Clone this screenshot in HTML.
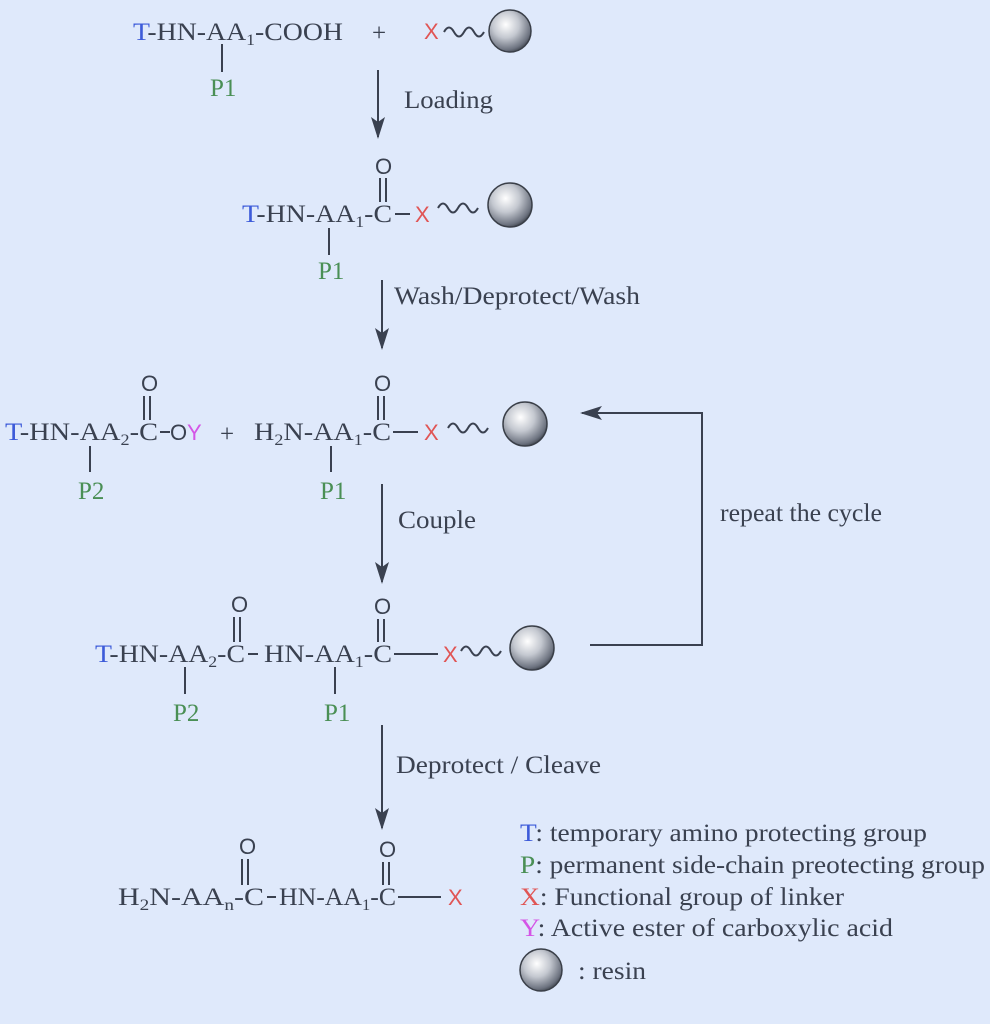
<!DOCTYPE html>
<html><head><meta charset="utf-8"><style>
html,body{margin:0;padding:0;background:#dfe9fb;}
svg{display:block;}
.t{font-family:"Liberation Serif",serif;font-size:25px;fill:#3a4150;}
.s{font-family:"Liberation Sans",sans-serif;font-size:22px;fill:#3a4150;}
.b{fill:#3d5bd9}.g{fill:#4a8f55}.r{fill:#e05555}.m{fill:#d455e6}
line,path.l{stroke:#3a4150;stroke-width:2;fill:none}
</style></head><body>
<svg width="990" height="1024" viewBox="0 0 990 1024" xmlns="http://www.w3.org/2000/svg">
<defs>
<radialGradient id="ball" cx="0.4" cy="0.35" r="0.7">
<stop offset="0" stop-color="#ffffff"/><stop offset="0.45" stop-color="#c4c8d0"/><stop offset="0.85" stop-color="#6d7380"/><stop offset="1" stop-color="#3a3f48"/>
</radialGradient>
<marker id="ah" markerWidth="24" markerHeight="14" refX="20" refY="7" orient="auto" markerUnits="userSpaceOnUse">
<path d="M0,0 L22,7 L0,14 L5,7 Z" fill="#3a4150"/></marker>
<g id="wave"><path class="l" d="M0,0 q5,-9 10,0 t10,0 t10,0 t10,0"/></g>
</defs>
<rect width="990" height="1024" fill="#dfe9fb"/>

<!-- Row 1 -->
<text class="t" x="133" y="40" textLength="210" lengthAdjust="spacingAndGlyphs"><tspan class="b">T</tspan>-HN-AA<tspan font-size="16" dy="5">1</tspan><tspan dy="-5">-COOH</tspan></text>
<line x1="222" y1="44" x2="222" y2="72"/>
<text class="t g" x="210" y="96">P1</text>
<text class="t" x="372" y="41" font-size="28">+</text>
<text class="s r" x="424" y="39">X</text>
<use href="#wave" x="444" y="32"/>
<circle cx="510" cy="31" r="21" fill="url(#ball)" stroke="#3a3f48" stroke-width="1.5"/>
<line x1="378" y1="70" x2="378" y2="137" marker-end="url(#ah)"/>
<text class="t" x="404" y="108" textLength="89" lengthAdjust="spacingAndGlyphs">Loading</text>

<!-- Row 2 -->
<text class="s" x="375" y="174">O</text>
<line x1="380" y1="178" x2="380" y2="202"/><line x1="386" y1="178" x2="386" y2="202"/>
<text class="t" x="242" y="222" textLength="150" lengthAdjust="spacingAndGlyphs"><tspan class="b">T</tspan>-HN-AA<tspan font-size="16" dy="5">1</tspan><tspan dy="-5">-C</tspan></text>
<line x1="395" y1="214" x2="410" y2="214"/>
<text class="s r" x="415" y="222">X</text>
<use href="#wave" x="438" y="208"/>
<circle cx="510" cy="205" r="22" fill="url(#ball)" stroke="#3a3f48" stroke-width="1.5"/>
<line x1="329" y1="228" x2="329" y2="255"/>
<text class="t g" x="318" y="279">P1</text>
<line x1="382" y1="280" x2="382" y2="348" marker-end="url(#ah)"/>
<text class="t" x="394" y="304" textLength="246" lengthAdjust="spacingAndGlyphs">Wash/Deprotect/Wash</text>

<!-- Row 3 -->
<text class="s" x="141" y="391">O</text>
<line x1="144" y1="396" x2="144" y2="420"/><line x1="150" y1="396" x2="150" y2="420"/>
<text class="t" x="5" y="440" textLength="153" lengthAdjust="spacingAndGlyphs"><tspan class="b">T</tspan>-HN-AA<tspan font-size="16" dy="5">2</tspan><tspan dy="-5">-C</tspan></text>
<line x1="160" y1="432" x2="170" y2="432"/>
<text class="s" x="170" y="440">O</text><text class="s m" x="187" y="440">Y</text>
<line x1="90" y1="446" x2="90" y2="472"/>
<text class="t g" x="78" y="499">P2</text>
<text class="t" x="220" y="442" font-size="28">+</text>
<text class="t" x="254" y="440" textLength="137" lengthAdjust="spacingAndGlyphs">H<tspan font-size="16" dy="5">2</tspan><tspan dy="-5">N-AA</tspan><tspan font-size="16" dy="5">1</tspan><tspan dy="-5">-C</tspan></text>
<text class="s" x="374" y="391">O</text>
<line x1="378" y1="396" x2="378" y2="420"/><line x1="384" y1="396" x2="384" y2="420"/>
<line x1="393" y1="432" x2="418" y2="432"/>
<text class="s r" x="424" y="440">X</text>
<use href="#wave" x="448" y="428"/>
<circle cx="525" cy="424" r="22" fill="url(#ball)" stroke="#3a3f48" stroke-width="1.5"/>
<line x1="331" y1="446" x2="331" y2="472"/>
<text class="t g" x="320" y="499">P1</text>
<line x1="382" y1="484" x2="382" y2="582" marker-end="url(#ah)"/>
<text class="t" x="398" y="528" textLength="78" lengthAdjust="spacingAndGlyphs">Couple</text>

<!-- repeat -->
<path class="l" d="M590,645 L702,645 L702,413 L582,413" marker-end="url(#ah)"/>
<text class="t" x="720" y="521" textLength="162" lengthAdjust="spacingAndGlyphs">repeat the cycle</text>

<!-- Row 4 -->
<text class="s" x="231" y="612">O</text>
<line x1="234" y1="617" x2="234" y2="642"/><line x1="240" y1="617" x2="240" y2="642"/>
<text class="t" x="95" y="662" textLength="150" lengthAdjust="spacingAndGlyphs"><tspan class="b">T</tspan>-HN-AA<tspan font-size="16" dy="5">2</tspan><tspan dy="-5">-C</tspan></text>
<line x1="248" y1="654" x2="258" y2="654"/>
<text class="t" x="264" y="662" textLength="128" lengthAdjust="spacingAndGlyphs">HN-AA<tspan font-size="16" dy="5">1</tspan><tspan dy="-5">-C</tspan></text>
<text class="s" x="374" y="614">O</text>
<line x1="378" y1="619" x2="378" y2="642"/><line x1="384" y1="619" x2="384" y2="642"/>
<line x1="394" y1="654" x2="438" y2="654"/>
<text class="s r" x="443" y="662">X</text>
<use href="#wave" x="461" y="651"/>
<circle cx="532" cy="648" r="22" fill="url(#ball)" stroke="#3a3f48" stroke-width="1.5"/>
<line x1="185" y1="667" x2="185" y2="694"/>
<text class="t g" x="173" y="721">P2</text>
<line x1="335" y1="667" x2="335" y2="694"/>
<text class="t g" x="324" y="721">P1</text>
<line x1="382" y1="725" x2="382" y2="828" marker-end="url(#ah)"/>
<text class="t" x="396" y="773" textLength="205" lengthAdjust="spacingAndGlyphs">Deprotect / Cleave</text>

<!-- Row 5 -->
<text class="s" x="239" y="854">O</text>
<line x1="242" y1="859" x2="242" y2="885"/><line x1="248" y1="859" x2="248" y2="885"/>
<text class="t" x="118" y="905" textLength="146" lengthAdjust="spacingAndGlyphs">H<tspan font-size="16" dy="5">2</tspan><tspan dy="-5">N-AA</tspan><tspan font-size="16" dy="5">n</tspan><tspan dy="-5">-C</tspan></text>
<line x1="267" y1="897" x2="276" y2="897"/>
<text class="t" x="279" y="905" textLength="117" lengthAdjust="spacingAndGlyphs">HN-AA<tspan font-size="16" dy="5">1</tspan><tspan dy="-5">-C</tspan></text>
<text class="s" x="379" y="857">O</text>
<line x1="383" y1="862" x2="383" y2="885"/><line x1="389" y1="862" x2="389" y2="885"/>
<line x1="398" y1="897" x2="441" y2="897"/>
<text class="s r" x="448" y="905">X</text>

<!-- Legend -->
<text class="t" x="520" y="841" textLength="407" lengthAdjust="spacingAndGlyphs"><tspan class="b">T</tspan>: temporary amino protecting group</text>
<text class="t" x="520" y="873" textLength="465" lengthAdjust="spacingAndGlyphs"><tspan class="g">P</tspan>: permanent side-chain preotecting group</text>
<text class="t" x="520" y="905" textLength="324" lengthAdjust="spacingAndGlyphs"><tspan class="r">X</tspan>: Functional group of linker</text>
<text class="t" x="520" y="936" textLength="373" lengthAdjust="spacingAndGlyphs"><tspan class="m">Y</tspan>: Active ester of carboxylic acid</text>
<ellipse cx="541" cy="970" rx="21" ry="21" fill="url(#ball)" stroke="#3a3f48" stroke-width="1.5"/>
<text class="t" x="578" y="979" textLength="68" lengthAdjust="spacingAndGlyphs">: resin</text>
</svg>
</body></html>
